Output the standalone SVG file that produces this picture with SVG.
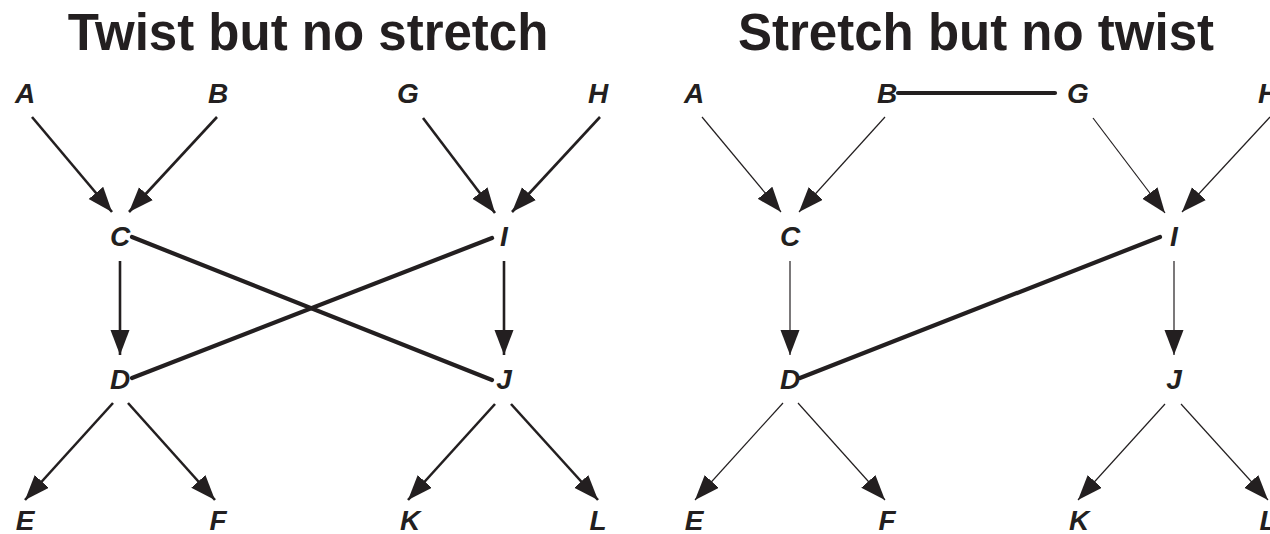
<svg xmlns="http://www.w3.org/2000/svg" width="1270" height="534" viewBox="0 0 1270 534">
  <style>
    .title { font-family: "Liberation Sans", Arial, sans-serif; font-weight: bold; font-size: 51px; fill: #231f20; text-anchor: middle; }
    .lbl { font-family: "Liberation Sans", Arial, sans-serif; font-weight: bold; font-style: italic; font-size: 28px; fill: #231f20; text-anchor: middle; }
    .arr { stroke: #231f20; stroke-width: 2.6; fill: none; marker-end: url(#head); }
    .arr-thin { stroke: #231f20; stroke-width: 1.2; fill: none; marker-end: url(#head); }
    .link { stroke: #231f20; stroke-width: 4.2; fill: none; stroke-linecap: round; }
  </style>
  <defs>
    <!-- shared filled arrowhead, sized in user units so thin and thick arrows match -->
    <marker id="head" markerUnits="userSpaceOnUse" markerWidth="28" markerHeight="22" refX="25" refY="9.5" orient="auto">
      <path d="M0,0 L25,9.5 L0,19 z" fill="#231f20"/>
    </marker>
  </defs>
  <rect width="1270" height="534" fill="#ffffff"/>

  <text class="title" x="308" y="50">Twist but no stretch</text>
  <text class="title" x="976" y="50">Stretch but no twist</text>

  <!-- left panel connectors -->
  <g id="edges-left">
    <line class="arr" x1="32" y1="117" x2="112" y2="212"/>
    <line class="arr" x1="217" y1="117" x2="129" y2="212"/>
    <line class="arr" x1="423" y1="118" x2="495" y2="213"/>
    <line class="arr" x1="600" y1="117" x2="512" y2="212"/>
    <line class="arr" x1="120" y1="261" x2="120" y2="355"/>
    <line class="arr" x1="504" y1="261" x2="504" y2="355"/>
    <line class="arr" x1="113" y1="403" x2="25" y2="500"/>
    <line class="arr" x1="128" y1="403" x2="215" y2="500"/>
    <line class="arr" x1="495" y1="404" x2="408" y2="500"/>
    <line class="arr" x1="511" y1="404" x2="598" y2="500"/>
    <line class="link" x1="132" y1="237" x2="492" y2="380"/>
    <line class="link" x1="132" y1="378" x2="492" y2="238"/>
  </g>

  <!-- right panel connectors -->
  <g id="edges-right">
    <line class="arr-thin" x1="702" y1="117" x2="781" y2="212"/>
    <line class="arr-thin" x1="885" y1="117" x2="799" y2="212"/>
    <line class="arr-thin" x1="1093" y1="118" x2="1165" y2="213"/>
    <line class="arr-thin" x1="1270" y1="117" x2="1182" y2="212"/>
    <line class="arr-thin" x1="790" y1="261" x2="790" y2="355"/>
    <line class="arr-thin" x1="1174" y1="261" x2="1174" y2="355"/>
    <line class="arr-thin" x1="783" y1="403" x2="695" y2="500"/>
    <line class="arr-thin" x1="798" y1="403" x2="885" y2="500"/>
    <line class="arr-thin" x1="1165" y1="404" x2="1078" y2="500"/>
    <line class="arr-thin" x1="1181" y1="404" x2="1268" y2="500"/>
    <line class="link" x1="898" y1="93" x2="1055" y2="93"/>
    <line class="link" x1="800" y1="378" x2="1160" y2="237"/>
  </g>

  <!-- left panel nodes -->
  <g id="L-A"><text class="lbl" x="25" y="103">A</text></g>
  <g id="L-B"><text class="lbl" x="218" y="103">B</text></g>
  <g id="L-G"><text class="lbl" x="408" y="103">G</text></g>
  <g id="L-H"><text class="lbl" x="598" y="103">H</text></g>
  <g id="L-C"><text class="lbl" x="120" y="246">C</text></g>
  <g id="L-I"><text class="lbl" x="504" y="246">I</text></g>
  <g id="L-D"><text class="lbl" x="120" y="389">D</text></g>
  <g id="L-J"><text class="lbl" x="504" y="389">J</text></g>
  <g id="L-E"><text class="lbl" x="25" y="530">E</text></g>
  <g id="L-F"><text class="lbl" x="218" y="530">F</text></g>
  <g id="L-K"><text class="lbl" x="410" y="530">K</text></g>
  <g id="L-L"><text class="lbl" x="598" y="530">L</text></g>

  <!-- right panel nodes -->
  <g id="R-A"><text class="lbl" x="694" y="103">A</text></g>
  <g id="R-B"><text class="lbl" x="887" y="103">B</text></g>
  <g id="R-G"><text class="lbl" x="1078" y="103">G</text></g>
  <g id="R-H"><text class="lbl" x="1268" y="103">H</text></g>
  <g id="R-C"><text class="lbl" x="790" y="246">C</text></g>
  <g id="R-I"><text class="lbl" x="1174" y="246">I</text></g>
  <g id="R-D"><text class="lbl" x="790" y="389">D</text></g>
  <g id="R-J"><text class="lbl" x="1174" y="389">J</text></g>
  <g id="R-E"><text class="lbl" x="694" y="530">E</text></g>
  <g id="R-F"><text class="lbl" x="887" y="530">F</text></g>
  <g id="R-K"><text class="lbl" x="1079" y="530">K</text></g>
  <g id="R-L"><text class="lbl" x="1268" y="530">L</text></g>
</svg>
